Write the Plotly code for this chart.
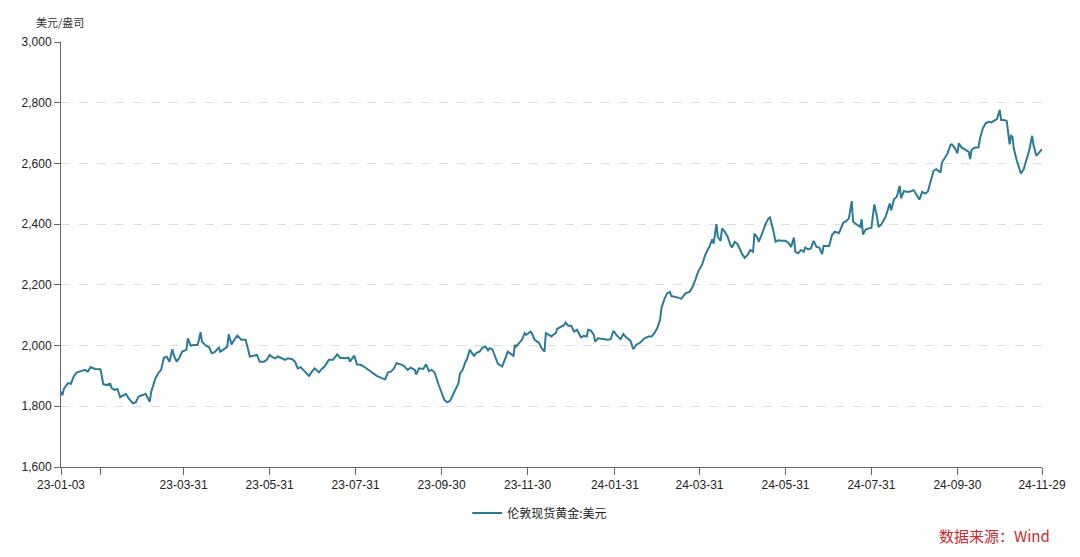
import plotly.graph_objects as go

# ---- data ----
dates = [
    "2023-01-03","2023-01-04","2023-01-05","2023-01-08","2023-01-10","2023-01-12","2023-01-14","2023-01-18",
    "2023-01-20","2023-01-22","2023-01-24","2023-01-27","2023-01-30","2023-01-31","2023-02-02","2023-02-04",
    "2023-02-07","2023-02-08","2023-02-10","2023-02-12","2023-02-14","2023-02-16","2023-02-18","2023-02-20",
    "2023-02-23","2023-02-25","2023-02-27","2023-03-02","2023-03-04","2023-03-07","2023-03-08","2023-03-11",
    "2023-03-13","2023-03-15","2023-03-17","2023-03-19","2023-03-21","2023-03-23","2023-03-24","2023-03-26",
    "2023-03-28","2023-03-30","2023-04-02","2023-04-03","2023-04-05","2023-04-07","2023-04-10","2023-04-12",
    "2023-04-13","2023-04-16","2023-04-18","2023-04-20","2023-04-22","2023-04-25","2023-04-26","2023-04-28",
    "2023-05-01","2023-05-02","2023-05-04","2023-05-06","2023-05-08","2023-05-11","2023-05-14","2023-05-17",
    "2023-05-19","2023-05-22","2023-05-24","2023-05-27","2023-05-29","2023-05-31","2023-06-02","2023-06-04",
    "2023-06-06","2023-06-09","2023-06-11","2023-06-13","2023-06-16","2023-06-18","2023-06-20","2023-06-22",
    "2023-06-25","2023-06-28","2023-06-30","2023-07-02","2023-07-04","2023-07-05","2023-07-07","2023-07-09",
    "2023-07-12","2023-07-15","2023-07-18","2023-07-20","2023-07-24","2023-07-26","2023-07-27","2023-07-30",
    "2023-08-01","2023-08-04","2023-08-07","2023-08-10","2023-08-13","2023-08-15","2023-08-19","2023-08-21",
    "2023-08-23","2023-08-25","2023-08-27","2023-08-29","2023-09-01","2023-09-03","2023-09-06","2023-09-08",
    "2023-09-11","2023-09-12","2023-09-14","2023-09-17","2023-09-19","2023-09-21","2023-09-23","2023-09-25",
    "2023-09-28","2023-09-30","2023-10-02","2023-10-04","2023-10-06","2023-10-08","2023-10-10","2023-10-12",
    "2023-10-13","2023-10-14","2023-10-15","2023-10-17","2023-10-18","2023-10-20","2023-10-21","2023-10-23",
    "2023-10-25","2023-10-27","2023-10-29","2023-10-31","2023-11-02","2023-11-03","2023-11-05","2023-11-07",
    "2023-11-09","2023-11-12","2023-11-14","2023-11-15","2023-11-16","2023-11-18","2023-11-20","2023-11-21",
    "2023-11-22","2023-11-24","2023-11-26","2023-11-28","2023-11-29","2023-12-02","2023-12-03","2023-12-05",
    "2023-12-08","2023-12-10","2023-12-12","2023-12-13","2023-12-15","2023-12-17","2023-12-18","2023-12-20",
    "2023-12-21","2023-12-24","2023-12-26","2023-12-27","2023-12-29","2023-12-31",
    "2024-01-02","2024-01-04","2024-01-05","2024-01-07","2024-01-09","2024-01-11","2024-01-12","2024-01-14",
    "2024-01-16","2024-01-17","2024-01-19","2024-01-21","2024-01-23","2024-01-26","2024-01-28","2024-01-30",
    "2024-02-01","2024-02-04","2024-02-06","2024-02-08","2024-02-11","2024-02-13","2024-02-15","2024-02-18",
    "2024-02-21","2024-02-24","2024-02-26","2024-02-28","2024-03-01","2024-03-03","2024-03-04","2024-03-06",
    "2024-03-08","2024-03-10","2024-03-11","2024-03-14","2024-03-16","2024-03-18","2024-03-21","2024-03-24",
    "2024-03-26","2024-03-28","2024-03-30","2024-04-02","2024-04-04","2024-04-06","2024-04-07","2024-04-09",
    "2024-04-10","2024-04-12","2024-04-13","2024-04-15","2024-04-16","2024-04-18","2024-04-20","2024-04-22",
    "2024-04-23","2024-04-25","2024-04-27","2024-04-30","2024-05-02","2024-05-04","2024-05-06","2024-05-08",
    "2024-05-09","2024-05-11","2024-05-12","2024-05-14","2024-05-17","2024-05-19","2024-05-20","2024-05-22",
    "2024-05-24","2024-05-26","2024-05-28","2024-05-31","2024-06-02","2024-06-04","2024-06-06","2024-06-07",
    "2024-06-09","2024-06-11","2024-06-13","2024-06-14","2024-06-16","2024-06-18","2024-06-20","2024-06-22",
    "2024-06-24","2024-06-26","2024-06-27","2024-06-29","2024-07-01","2024-07-03","2024-07-05","2024-07-08",
    "2024-07-11","2024-07-13","2024-07-15","2024-07-17","2024-07-18","2024-07-21","2024-07-23","2024-07-24",
    "2024-07-25","2024-07-27","2024-07-29","2024-07-31","2024-08-02","2024-08-04","2024-08-05","2024-08-07",
    "2024-08-10","2024-08-11","2024-08-13","2024-08-14","2024-08-16","2024-08-18","2024-08-20","2024-08-21",
    "2024-08-23","2024-08-25","2024-08-27","2024-08-30","2024-09-01","2024-09-03","2024-09-05","2024-09-07",
    "2024-09-09","2024-09-11","2024-09-13","2024-09-15","2024-09-18","2024-09-19","2024-09-21","2024-09-23",
    "2024-09-25","2024-09-26","2024-09-28","2024-09-30","2024-10-01","2024-10-03","2024-10-05","2024-10-08",
    "2024-10-09","2024-10-10","2024-10-12","2024-10-15","2024-10-16","2024-10-18","2024-10-20","2024-10-22",
    "2024-10-24","2024-10-26","2024-10-28","2024-10-30","2024-10-31","2024-11-02","2024-11-04","2024-11-06",
    "2024-11-07","2024-11-08","2024-11-09","2024-11-11","2024-11-13","2024-11-14","2024-11-16","2024-11-18",
    "2024-11-20","2024-11-22","2024-11-23","2024-11-25","2024-11-27","2024-11-29",
]

gold_usd = [
    1848,1836,1857,1876,1874,1898,1911,1916,
    1920,1914,1929,1923,1923,1922,1873,1870,
    1874,1859,1854,1857,1830,1837,1841,1826,
    1810,1813,1832,1837,1841,1815,1848,1892,
    1909,1920,1960,1963,1947,1988,1969,1947,
    1960,1980,1986,2024,2000,2002,2002,2044,
    2013,1999,1995,1975,1978,1993,1980,1986,
    1997,2037,2004,2019,2033,2019,2019,1964,
    1967,1969,1947,1947,1953,1969,1962,1958,
    1964,1958,1953,1958,1955,1947,1925,1929,
    1914,1900,1914,1925,1916,1912,1923,1931,
    1953,1953,1971,1960,1958,1960,1947,1967,
    1938,1936,1927,1916,1905,1900,1892,1889,
    1912,1914,1923,1942,1938,1934,1920,1927,
    1920,1905,1925,1923,1938,1916,1920,1912,
    1870,1843,1821,1813,1818,1837,1859,1876,
    1907,1914,1920,1947,1955,1986,1978,1966,
    1977,1980,1993,1997,1984,1991,1988,1964,
    1940,1931,1955,1966,1980,1973,1966,2002,
    1997,2008,2019,2041,2035,2046,2041,2019,
    2010,1991,1980,2041,2035,2030,2035,2041,
    2055,2063,2068,2076,2065,2065,
    2046,2052,2043,2027,2032,2030,2052,2049,
    2035,2013,2024,2022,2021,2019,2021,2049,
    2035,2021,2038,2027,2016,1988,2002,2010,
    2024,2030,2030,2041,2057,2084,2123,2152,
    2172,2177,2163,2161,2158,2154,2172,2177,
    2192,2216,2243,2268,2298,2317,2325,2350,
    2336,2400,2358,2345,2386,2375,2358,2331,
    2323,2342,2334,2304,2289,2298,2315,2309,
    2369,2356,2342,2364,2402,2419,2422,2386,
    2342,2347,2345,2345,2339,2325,2356,2309,
    2304,2315,2309,2323,2317,2320,2345,2325,
    2323,2301,2328,2328,2328,2364,2375,2371,
    2405,2410,2419,2476,2408,2397,2391,2416,
    2366,2383,2386,2388,2465,2424,2391,2399,
    2424,2438,2468,2446,2482,2490,2526,2485,
    2509,2507,2507,2512,2498,2481,2507,2501,
    2507,2545,2575,2581,2570,2603,2619,2633,
    2660,2663,2652,2633,2666,2652,2647,2638,
    2614,2644,2652,2653,2682,2715,2732,2737,
    2735,2741,2746,2776,2743,2743,2740,2663,
    2691,2688,2649,2611,2583,2567,2581,2611,
    2644,2691,2660,2625,2638,2647,
]

series_name = "伦敦现货黄金:美元"
y_unit = "美元/盎司"
source_text = "数据来源：Wind"

x_tick_vals = ["2023-01-03", "2023-01-31", "2023-03-31", "2023-05-31", "2023-07-31",
               "2023-09-30", "2023-11-30", "2024-01-31", "2024-03-31", "2024-05-31",
               "2024-07-31", "2024-09-30", "2024-11-29"]
x_tick_text = ["23-01-03", "", "23-03-31", "23-05-31", "23-07-31", "23-09-30", "23-11-30",
               "24-01-31", "24-03-31", "24-05-31", "24-07-31", "24-09-30", "24-11-29"]
y_tick_vals = [1600, 1800, 2000, 2200, 2400, 2600, 2800, 3000]

FONT = "Liberation Sans, Arial, Noto Sans CJK SC, sans-serif"
CJK = "Noto Sans CJK SC, sans-serif"
LINE_COLOR = "#2a7b9a"

fig = go.Figure()
fig.add_trace(go.Scatter(
    x=dates, y=gold_usd, mode="lines", name=series_name,
    line=dict(color=LINE_COLOR, width=2),
))

fig.update_layout(
    width=1080, height=557,
    margin=dict(l=53, r=46, t=34, b=98),
    paper_bgcolor="white", plot_bgcolor="white",
    font=dict(family=FONT, size=12, color="#222"),
    showlegend=True,
    legend=dict(orientation="h", x=0.488, xanchor="center", y=-0.108, yanchor="middle",
                font=dict(size=12, color="#222", family=CJK),
                itemwidth=30),
    xaxis=dict(
        type="date", range=["2023-01-03", "2024-11-29"],
        tickmode="array", tickvals=x_tick_vals, ticktext=x_tick_text,
        ticks="outside", ticklen=7, tickcolor="#666", tickwidth=1,
        showline=True, linecolor="#666", linewidth=1,
        showgrid=False, zeroline=False,
        tickfont=dict(size=12, color="#222"),
    ),
    yaxis=dict(
        range=[1600, 3000], tickmode="array", tickvals=y_tick_vals,
        tickformat=",", ticks="outside", ticklen=6, tickcolor="#666", tickwidth=1,
        showline=True, linecolor="#666", linewidth=1,
        showgrid=True, gridcolor="#dddddd", griddash="dash", gridwidth=1,
        zeroline=False,
        tickfont=dict(size=12, color="#222"),
    ),
    annotations=[
        dict(text=y_unit, xref="paper", yref="paper", x=-0.001, y=1.047,
             xanchor="center", yanchor="middle", showarrow=False,
             font=dict(size=11, color="#333", family=CJK)),
        dict(text=source_text, xref="paper", yref="paper", x=1.0105, y=-0.16,
             xanchor="right", yanchor="middle", showarrow=False,
             font=dict(size=15, color="#d0282e", family=CJK)),
    ],
)

fig.write_html("out.html")
